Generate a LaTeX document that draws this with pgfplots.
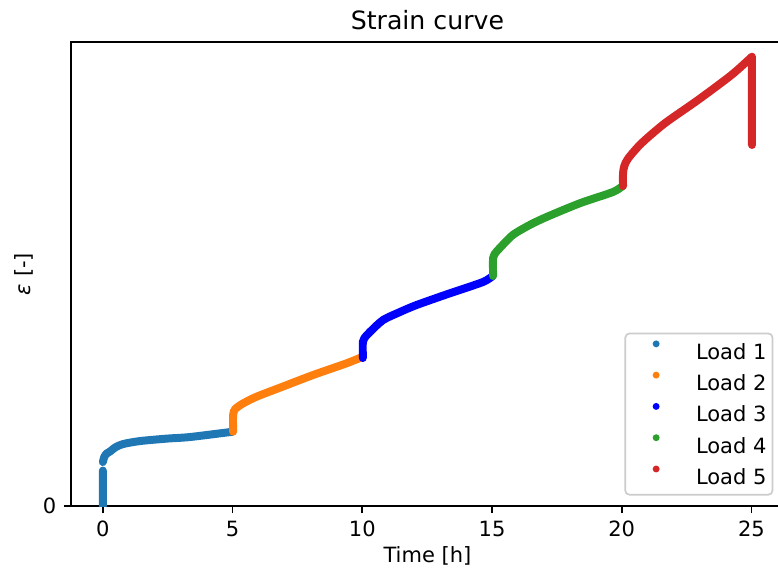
\documentclass[border=0pt]{standalone}
\usepackage{fontspec}
\setmainfont{DejaVu Sans}
\usepackage{pgfplots}
\pgfplotsset{compat=1.18}
\definecolor{c1}{HTML}{1F77B4}
\definecolor{c2}{HTML}{FF7F0E}
\definecolor{c3}{HTML}{0000FF}
\definecolor{c4}{HTML}{2CA02C}
\definecolor{c5}{HTML}{D62728}
\begin{document}
\begin{tikzpicture}
\begin{axis}[
  at={(0,0)}, anchor=south west, scale only axis,
  width=339.5pt, height=221pt,
  xmin=-1.23, xmax=26.25, ymin=0, ymax=464,
  xtick={0,5,10,15,20,25}, ytick={0},
  xtick pos=lower, ytick pos=left,
  tick align=outside, major tick length=3.5pt,
  tick style={line width=0.8pt, black},
  axis line style={line width=0.8pt},
  /pgf/number format/assume math mode=true,
  ticklabel style={font=\fontsize{10}{12}\selectfont},
  xlabel={Time [h]},
  xlabel style={font=\fontsize{10}{12}\selectfont, at={(axis description cs:0.5,-0.1077)}, anchor=center},
  ylabel={\textit{ε} [-]},
  ylabel style={font=\fontsize{10}{12}\selectfont, at={(axis description cs:-0.066,0.5)}, anchor=center},
  unbounded coords=jump,
  every axis plot/.append style={line width=3.8pt, line cap=round, line join=round, smooth, tension=0.45},
  legend cell align=left,
  legend style={at={(axis description cs:1,0)}, anchor=south east, xshift=-5pt, yshift=5pt,
    draw=black!20, rounded corners=2pt, line width=0.8pt,
    font=\fontsize{10}{12}\selectfont,
    inner xsep=1.4pt, inner ysep=2.95pt, row sep=3.6pt, column sep=2pt,
    nodes={inner xsep=1.5pt, inner ysep=2pt, text height=7.3pt, text depth=0pt}},
  legend image code/.code={\fill[#1, draw=none] (11.4pt,3.65pt) circle (1.65pt); \path (0,0) (25pt,0);},
]
\addplot[color=c1] coordinates {(0,0) (0,35.5) (0,nan) (0,44) (0.05,49) (0.12,52) (0.27,54.5) (0.5,59) (0.78,62) (1.43,65) (2.5,67.5) (3.35,69) (5,74.3)};
\addlegendentry{Load 1}
\addplot[color=c2] coordinates {(5.02,74.3) (5.02,91) (5.1,97) (5.41,102.7) (5.92,109.3) (6.82,118.3) (8.1,131) (9.39,142.7) (9.99,149)};
\addlegendentry{Load 2}
\addplot[color=c3] coordinates {(10.02,148) (10.02,164) (10.08,168) (10.29,174) (10.8,186) (11.45,194) (12.09,201) (13.37,212.7) (14.65,224) (15.02,230)};
\addlegendentry{Load 3}
\addplot[color=c4] coordinates {(15.04,230) (15.04,248) (15.1,252) (15.3,258) (15.8,271) (16.45,281) (17.1,289) (18.38,302.7) (19.66,314) (20.03,320)};
\addlegendentry{Load 4}
\addplot[color=c5] coordinates {(20.05,320) (20.05,332.7) (20.1,340) (20.25,347.7) (20.76,362.7) (21.66,382.7) (22.94,406) (24.23,431) (25.02,449.3) (25.02,nan) (25.02,449.3) (25.02,361)};
\addlegendentry{Load 5}
\end{axis}
\node[anchor=base, font=\fontsize{12}{14}\selectfont, inner sep=0pt] at (169.75pt,227pt) {Strain curve};
\pgfresetboundingbox
\path (-33.8pt,-31.4pt) rectangle (336.7pt,241pt);
\end{tikzpicture}
\end{document}
